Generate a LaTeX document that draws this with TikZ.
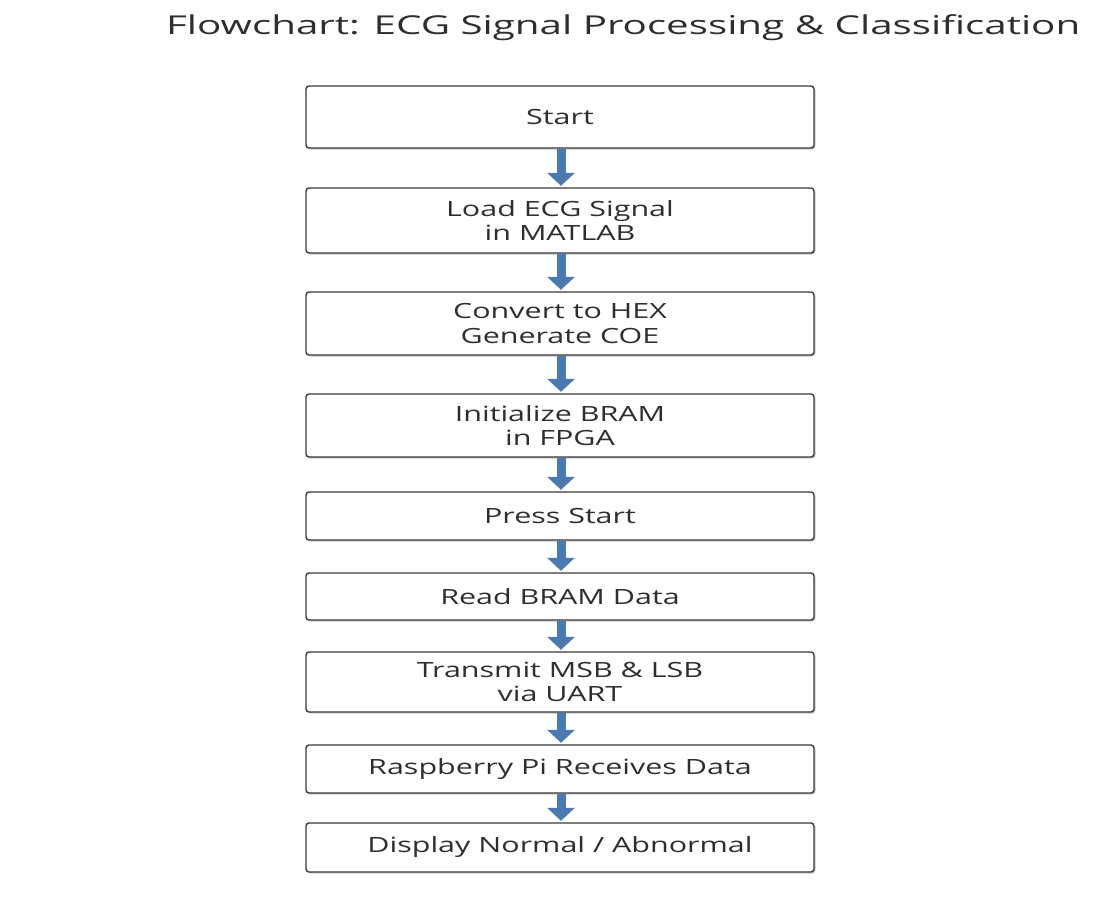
\documentclass[tikz,border=0pt]{standalone}
\usepackage{fontspec}
\setmainfont{Open Sans}
\newfontfamily\boxfont[FakeStretch=1.45]{Open Sans}
\newfontfamily\titlefont[FakeStretch=1.55]{Open Sans}
\usetikzlibrary{arrows.meta}
\definecolor{arrowblue}{HTML}{4A7AB0}
\definecolor{boxline}{HTML}{3A3A3A}
\definecolor{txt}{HTML}{2E2E2E}
\definecolor{shadowc}{HTML}{C8C8C8}
\tikzset{
  stepbox/.style={draw=boxline, line width=1.4pt, rounded corners=3pt, fill=white,
    minimum width=508pt, inner sep=0pt, align=center, text=txt,
    font=\boxfont\fontsize{21}{24.5}\selectfont},
  flowarrow/.style={draw=arrowblue, line width=9pt,
    -{Triangle[width=27pt,length=13pt]}, arrowblue, shorten >=1.5pt},
}
\begin{document}
\begin{tikzpicture}[x=1pt,y=-1pt]
\useasboundingbox[fill=white] (0,0) rectangle (1105,915);
\node[text=txt, font=\titlefont\fontsize{26}{30}\selectfont, anchor=base west, inner sep=0pt] (title) at (166,34.5)
  {Flowchart: ECG Signal Processing \& Classification};
\foreach \n/\c/\h/\t in {
  s1/117/62/{Start},
  s2/220.5/65/{Load ECG Signal\\in MATLAB},
  s3/323.5/63/{Convert to HEX\\Generate COE},
  s4/425.5/63/{Initialize BRAM\\in FPGA},
  s5/516/48/{Press Start},
  s6/596.5/47/{Read BRAM Data},
  s7/682/60/{Transmit MSB \& LSB\\via UART},
  s8/769/48/{Raspberry Pi Receives Data},
  s9/847.5/49/{Display Normal / Abnormal}}{
  \fill[shadowc, rounded corners=3pt] (307.5,\c-\h/2+1.5) rectangle (815.5,\c+\h/2+1.5);
  \node[stepbox, minimum height=\h pt] (\n) at (560,\c) {\t};
}
\foreach \a/\b in {s1/s2,s2/s3,s3/s4,s4/s5,s5/s6,s6/s7,s7/s8,s8/s9}{
  \draw[flowarrow] ([xshift=1pt]\a.south) -- ([xshift=1pt]\b.north);
}
\end{tikzpicture}
\end{document}
